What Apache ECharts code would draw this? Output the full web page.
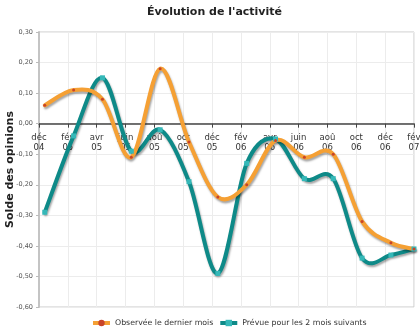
<!DOCTYPE html>
<html><head><meta charset="utf-8">
<script src="https://cdn.jsdelivr.net/npm/echarts@6/dist/echarts.min.js"></script>
<style>html,body{margin:0;padding:0;background:#fff}#c{width:420px;height:328px}</style>
</head><body><div id="c"></div>
<script>
// month offsets from Dec 2004 for each data point
var pointMonths = [0.4, 2.4, 4.4, 6.4, 8.4, 10.4, 12.4, 14.4, 16.4, 18.4, 20.4, 22.4, 24.4, 26];
var tickLabels = ['déc\n04','fév\n05','avr\n05','juin\n05','aoû\n05','oct\n05','déc\n05','fév\n06','avr\n06','juin\n06','aoû\n06','oct\n06','déc\n06','fév\n07'];
var observee = [0.06, 0.11, 0.08, -0.11, 0.18, -0.06, -0.24, -0.20, -0.055, -0.11, -0.10, -0.32, -0.39, -0.41];
var prevue = [-0.29, -0.04, 0.15, -0.09, -0.02, -0.19, -0.49, -0.13, -0.05, -0.18, -0.18, -0.44, -0.43, -0.41];
var seriesNames = ['Observée le dernier mois', 'Prévue pour les 2 mois suivants'];
var colors = ['#f5a034', '#0e8a88'];
var markerColors = ['#c8442a', '#35b8b8'];

function pairs(vals){ return vals.map(function(v,i){ return [pointMonths[i], v]; }); }
var FONT = 'DejaVu Sans';

function smoothRender(vals, color){
  return function(params, api){
    if (params.dataIndex !== 0) return null;
    var pts = vals.map(function(v,i){ return api.coord([pointMonths[i], v]); });
    var n = pts.length, d = 'M' + pts[0][0] + ',' + pts[0][1];
    for (var i = 0; i < n - 1; i++) {
      var p0 = pts[Math.max(i-1,0)], p1 = pts[i], p2 = pts[i+1], p3 = pts[Math.min(i+2,n-1)];
      var c1x = p1[0] + (p2[0]-p0[0])/6, c1y = p1[1] + (p2[1]-p0[1])/6;
      var c2x = p2[0] - (p3[0]-p1[0])/6, c2y = p2[1] - (p3[1]-p1[1])/6;
      d += ' C' + c1x + ',' + c1y + ' ' + c2x + ',' + c2y + ' ' + p2[0] + ',' + p2[1];
    }
    return {type:'path', shape:{pathData:d},
      style:{fill:null, stroke:color, lineWidth:4, lineJoin:'round', lineCap:'round',
        shadowColor:'rgba(0,0,0,0.35)', shadowBlur:2, shadowOffsetX:1, shadowOffsetY:2}};
  };
}

var chart = echarts.init(document.getElementById('c'), null, {renderer:'canvas'});
chart.setOption({
  animation:false,
  title:{text:"Évolution de l'activité", left:142, top:2,
    textStyle:{fontFamily:FONT, fontSize:11, fontWeight:'bold', color:'#222'}},
  legend:{bottom:-4, left:86, itemWidth:17, itemHeight:8, itemGap:5,
    textStyle:{fontFamily:FONT, fontSize:7.8, color:'#333'},
    data:[
      {name:seriesNames[0], lineStyle:{color:colors[0], width:4, opacity:1}},
      {name:seriesNames[1], lineStyle:{color:colors[1], width:4, opacity:1}}
    ]},
  grid:{left:39, right:6, top:32, bottom:21, show:true, borderColor:'#c8c8c8', borderWidth:1,
    containLabel:false, outerBoundsMode:'none'},
  xAxis:{
    type:'value', min:0, max:26, interval:2,
    axisLine:{show:true, onZero:true, lineStyle:{color:'#444', width:1.5}},
    axisTick:{show:true, length:4, lineStyle:{color:'#444', width:1}},
    axisLabel:{fontFamily:FONT, fontSize:8.5, color:'#333', lineHeight:10, margin:-174,
      formatter:function(v){ var i=Math.round(v/2); return tickLabels[i]||''; }},
    splitLine:{show:true, lineStyle:{color:'#ececec', width:1}}
  },
  yAxis:{
    type:'value', min:-0.6, max:0.3, interval:0.1,
    name:'Solde des opinions', nameLocation:'middle', nameGap:23, nameMoveOverlap:false,
    nameTextStyle:{fontFamily:FONT, fontSize:11, fontWeight:'bold', color:'#222'},
    axisLine:{show:true, lineStyle:{color:'#c4c4c4', width:2}},
    axisTick:{show:true, length:3, lineStyle:{color:'#bbb'}},
    axisLabel:{fontFamily:FONT, fontSize:6.5, color:'#555', margin:6,
      formatter:function(v){ return v.toFixed(2).replace('.', ','); }},
    splitLine:{show:true, lineStyle:{color:'#ececec', width:1}}
  },
  series:[{
    type:'custom', renderItem:smoothRender(observee, colors[0]), data:pairs(observee), z:3, silent:true
  },{
    type:'custom', renderItem:smoothRender(prevue, colors[1]), data:pairs(prevue), z:2, silent:true
  },{
    name:seriesNames[0], type:'line', data:pairs(observee), color:colors[0],
    lineStyle:{color:colors[0], width:4, opacity:0},
    itemStyle:{color:markerColors[0]}, symbol:'circle', symbolSize:3, z:5
  },{
    name:seriesNames[1], type:'line', data:pairs(prevue), color:colors[1],
    lineStyle:{color:colors[1], width:4, opacity:0},
    itemStyle:{color:markerColors[1]}, symbol:'rect', symbolSize:5, z:4
  }]
});
</script></body></html>
